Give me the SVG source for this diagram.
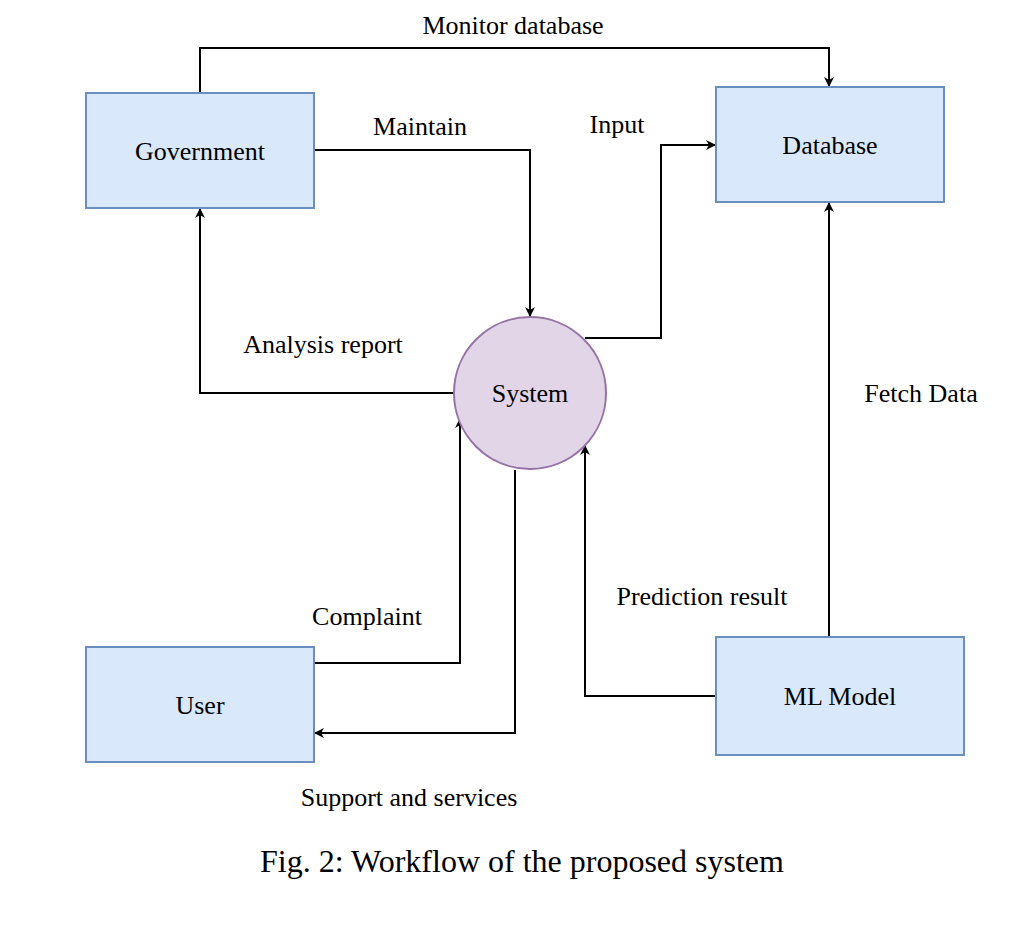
<svg xmlns="http://www.w3.org/2000/svg" width="1029" height="925" viewBox="0 0 1029 925">
<style>
.box{fill:#dae8fc;stroke:#6c8ebf;stroke-width:2}
.circ{fill:#e1d5e7;stroke:#9673a6;stroke-width:2}
.t{font-family:"Liberation Serif",serif;font-size:26px;fill:#000}
.c{fill:none;stroke:#000;stroke-width:2}
</style>
<defs><marker id="a" markerWidth="10" markerHeight="10" refX="9" refY="5" orient="auto" markerUnits="userSpaceOnUse"><path d="M0,0 L10,5 L0,10 L3,5 Z" fill="#000"/></marker></defs>
<rect width="1029" height="925" fill="#fff"/>
<g id="connectors">
<path class="c" d="M200,93 V48 H829 V86" marker-end="url(#a)"/>
<path class="c" d="M314,150 H530 V316" marker-end="url(#a)"/>
<path class="c" d="M585,338 H661 V145 H715" marker-end="url(#a)"/>
<path class="c" d="M454,393 H200 V209" marker-end="url(#a)"/>
<path class="c" d="M314,663 H460 V419" marker-end="url(#a)"/>
<path class="c" d="M515,470 V733 H315" marker-end="url(#a)"/>
<path class="c" d="M716,696 H585 V446" marker-end="url(#a)"/>
<path class="c" d="M829,637 V203" marker-end="url(#a)"/>
<text class="t" x="513" y="34" text-anchor="middle">Monitor database</text>
<text class="t" x="420" y="135" text-anchor="middle">Maintain</text>
<text class="t" x="617" y="133" text-anchor="middle">Input</text>
<text class="t" x="323" y="353" text-anchor="middle">Analysis report</text>
<text class="t" x="921" y="402" text-anchor="middle">Fetch Data</text>
<text class="t" x="367" y="625" text-anchor="middle">Complaint</text>
<text class="t" x="702" y="605" text-anchor="middle">Prediction result</text>
<text class="t" x="409" y="806" text-anchor="middle">Support and services</text>
</g>
<g id="government"><rect class="box" x="86" y="93" width="228" height="115"/><text class="t" x="200" y="160" text-anchor="middle">Government</text></g>
<g id="database"><rect class="box" x="716" y="87" width="228" height="115"/><text class="t" x="830" y="154" text-anchor="middle">Database</text></g>
<g id="system"><circle class="circ" cx="530" cy="393" r="76"/><text class="t" x="530" y="402" text-anchor="middle">System</text></g>
<g id="user"><rect class="box" x="86" y="647" width="228" height="115"/><text class="t" x="200" y="714" text-anchor="middle">User</text></g>
<g id="mlmodel"><rect class="box" x="716" y="637" width="248" height="118"/><text class="t" x="840" y="705" text-anchor="middle">ML Model</text></g>
<text class="t" x="522" y="872" text-anchor="middle" style="font-size:32px">Fig. 2: Workflow of the proposed system</text>
</svg>
